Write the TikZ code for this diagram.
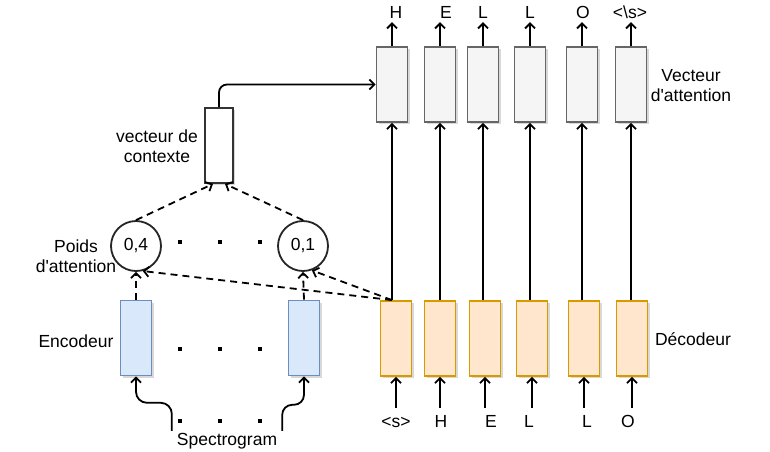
\documentclass[tikz,border=0pt]{standalone}
\usepackage{fontspec}
\setmainfont{Liberation Sans}
\usetikzlibrary{arrows.meta, shadows}
\definecolor{attfill}{HTML}{F5F5F5}
\definecolor{attline}{HTML}{666666}
\definecolor{decfill}{HTML}{FFE6CC}
\definecolor{decline}{HTML}{D79B00}
\definecolor{encfill}{HTML}{DAE8FC}
\definecolor{encline}{HTML}{6C8EBF}
\tikzstyle{arrow} = [line width=1.8pt, ->, >={Straight Barb[length=5pt,width=10pt]}]

\begin{document}
\begin{tikzpicture}[x=1pt, y=-1pt,
    font=\fontsize{17.5}{20}\selectfont,
    cell/.style={rectangle, line width=1.8pt, minimum width=31pt, minimum height=75pt, inner sep=0pt,
        drop shadow={shadow xshift=2pt, shadow yshift=-2pt, opacity=0.3}},
    enc/.style={cell, draw=encline, fill=encfill},
    dec/.style={cell, draw=decline, fill=decfill},
    att/.style={cell, draw=attline, fill=attfill},
    ctxbox/.style={cell, draw=black!80, fill=white, minimum width=28pt},
    weight/.style={circle, draw=black!85, line width=1.8pt, minimum size=50pt, inner sep=0pt},
    dot/.style={rectangle, fill=black, minimum size=4pt, inner sep=0pt},
    outlbl/.style={inner xsep=0pt, inner ysep=4pt, text height=12pt, text depth=0pt, anchor=base},
    inlbl/.style={outlbl, inner ysep=7pt},
    dasharrow/.style={arrow, dash pattern=on 7pt off 5pt},
]
\path[fill=white, use as bounding box] (0,0) rectangle (770,451);

% Decoder and attention columns
\foreach \i/\a/\d/\tp/\tpx/\bt/\btx in {1/392/396/H/396/{<s>}/396, 2/440/440/E/446/H/441,
    3/483/485/L/483/E/491, 4/530/532/L/530/L/529, 5/582/584/O/583/L/587,
    6/631/632/{<\textbackslash s>}/630/O/628} {
    \node[att] (att\i) at (\a, 84.5) {};
    \node[dec] (dec\i) at (\d, 338.5) {};
    \node[outlbl] (out\i) at (\tpx, 18) {\tp};
    \node[inlbl] (in\i) at (\btx, 427) {\bt};
    \draw[arrow] (att\i.north) -- (att\i.north |- out\i.south);
    \draw[arrow] (dec\i.north -| att\i) -- (att\i.south);
    \draw[arrow] (dec\i.south |- in\i.north) -- (dec\i.south);
}
\node[align=center] (attlbl) at (691, 86) {Vecteur\\d\textquotesingle attention};
\node (declbl) at (693, 339) {Décodeur};

% Encoder side
\node[enc] (enc1) at (136, 338) {};
\node[enc] (enc2) at (304, 338) {};
\node[weight] (w1) at (136, 246) {0,4};
\node[weight] (w2) at (303, 246) {0,1};
\node[ctxbox] (ctx) at (219, 145.5) {};
\node[minimum width=110pt, inner ysep=2pt, text height=12pt, text depth=4pt] (spec) at (227, 441) {Spectrogram};
\node (enclbl) at (76, 341) {Encodeur};
\node[align=center] (wlbl) at (76, 256) {Poids\\d\textquotesingle attention};
\node[align=center] (ctxlbl) at (157, 146) {vecteur de\\contexte};

% Dots
\foreach \y in {242, 349, 421} {
    \foreach \x in {180, 220, 260} {
        \node[dot] (dot-\x-\y) at (\x, \y) {};
    }
}

% Connections
\draw[arrow, rounded corners=11pt] (spec.north west) -- ++(0,-28) -| (enc1.south);
\draw[arrow, rounded corners=10pt] (spec.north east) -- ++(0,-26) -| (enc2.south);
\draw[dasharrow] (enc1.north) -- (w1.south);
\draw[dasharrow] (enc2.north) -- (w2.south);
\coordinate (q) at (dec1.north -| att1.south);
\draw[dasharrow] (q) -- (w1.-75);
\draw[dasharrow] (q) -- (w2.-70);
\draw[dasharrow] (w1.north) -- ([xshift=-6pt]ctx.south);
\draw[dasharrow] (w2.north) -- ([xshift=6pt]ctx.south);
\draw[arrow, rounded corners=8pt] (ctx.north) |- (att1.west);

\end{tikzpicture}
\end{document}
